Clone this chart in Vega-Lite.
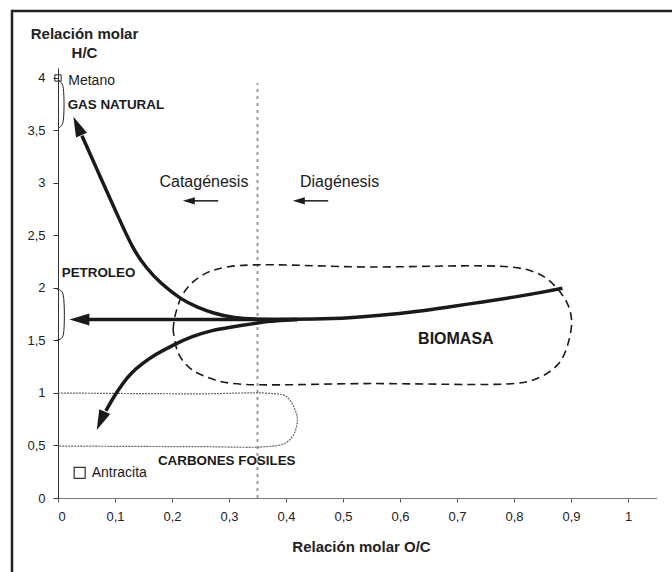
{
  "$schema": "https://vega.github.io/schema/vega-lite/v6.json",
  "autosize": {"type": "none"},
  "width": 598.5,
  "height": 430,
  "padding": {"left": 58, "top": 68, "right": 15.5, "bottom": 74},
  "background": "white",
  "config": {
    "view": {"stroke": null},
    "font": "Liberation Sans",
    "text": {"font": "Liberation Sans", "color": "#1a1a1a"}
  },
  "datasets": {
    "frame_h": [{"x": -0.0807, "x2": 1.2, "y": 4.638}],
    "frame_v": [{"x": -0.0807, "y": 4.65, "y2": -1.2}],
    "divide": [{"x": 0.35, "y": 0, "y2": 3.95}],
    "curves": [
      {"s": "main", "o": 1, "x": 0.885, "y": 1.997},
      {"s": "main", "o": 2, "x": 0.845, "y": 1.955},
      {"s": "main", "o": 3, "x": 0.805, "y": 1.917},
      {"s": "main", "o": 4, "x": 0.746, "y": 1.868},
      {"s": "main", "o": 5, "x": 0.68, "y": 1.815},
      {"s": "main", "o": 6, "x": 0.629, "y": 1.776},
      {"s": "main", "o": 7, "x": 0.57, "y": 1.74},
      {"s": "main", "o": 8, "x": 0.512, "y": 1.714},
      {"s": "main", "o": 9, "x": 0.45, "y": 1.703},
      {"s": "main", "o": 10, "x": 0.38, "y": 1.7},
      {"s": "main", "o": 11, "x": 0.3, "y": 1.7},
      {"s": "main", "o": 12, "x": 0.15, "y": 1.7},
      {"s": "main", "o": 13, "x": 0.045, "y": 1.7},
      {"s": "gas", "o": 1, "x": 0.42, "y": 1.7},
      {"s": "gas", "o": 2, "x": 0.36, "y": 1.7},
      {"s": "gas", "o": 3, "x": 0.307, "y": 1.714},
      {"s": "gas", "o": 4, "x": 0.272, "y": 1.76},
      {"s": "gas", "o": 5, "x": 0.245, "y": 1.815},
      {"s": "gas", "o": 6, "x": 0.217, "y": 1.886},
      {"s": "gas", "o": 7, "x": 0.179, "y": 2.048},
      {"s": "gas", "o": 8, "x": 0.155, "y": 2.19},
      {"s": "gas", "o": 9, "x": 0.132, "y": 2.362},
      {"s": "gas", "o": 10, "x": 0.103, "y": 2.71},
      {"s": "gas", "o": 11, "x": 0.074, "y": 3.06},
      {"s": "gas", "o": 12, "x": 0.042, "y": 3.45},
      {"s": "carb", "o": 1, "x": 0.42, "y": 1.7},
      {"s": "carb", "o": 2, "x": 0.37, "y": 1.685},
      {"s": "carb", "o": 3, "x": 0.343, "y": 1.66},
      {"s": "carb", "o": 4, "x": 0.3, "y": 1.625},
      {"s": "carb", "o": 5, "x": 0.272, "y": 1.6},
      {"s": "carb", "o": 6, "x": 0.235, "y": 1.54},
      {"s": "carb", "o": 7, "x": 0.202, "y": 1.457},
      {"s": "carb", "o": 8, "x": 0.172, "y": 1.37},
      {"s": "carb", "o": 9, "x": 0.149, "y": 1.286},
      {"s": "carb", "o": 10, "x": 0.128, "y": 1.19},
      {"s": "carb", "o": 11, "x": 0.112, "y": 1.08},
      {"s": "carb", "o": 12, "x": 0.098, "y": 0.965},
      {"s": "carb", "o": 13, "x": 0.084, "y": 0.83}
    ],
    "bigheads": [
      {"x": 0.02, "y": 1.7, "a": 0},
      {"x": 0.027, "y": 3.63, "a": 66},
      {"x": 0.068, "y": 0.648, "a": 293.5}
    ],
    "smallarrows": [
      {"s": "cat", "o": 1, "x": 0.235, "y": 2.83},
      {"s": "cat", "o": 2, "x": 0.281, "y": 2.83},
      {"s": "dia", "o": 1, "x": 0.428, "y": 2.83},
      {"s": "dia", "o": 2, "x": 0.474, "y": 2.83}
    ],
    "smallheads": [
      {"x": 0.219, "y": 2.83, "a": 0},
      {"x": 0.412, "y": 2.83, "a": 0}
    ],
    "bio": [
      {"o": 1, "x": 0.202, "y": 1.6},
      {"o": 2, "x": 0.205, "y": 1.727},
      {"o": 3, "x": 0.22, "y": 1.95},
      {"o": 4, "x": 0.249, "y": 2.108},
      {"o": 5, "x": 0.296, "y": 2.2},
      {"o": 6, "x": 0.55, "y": 2.2},
      {"o": 7, "x": 0.793, "y": 2.2},
      {"o": 8, "x": 0.834, "y": 2.155},
      {"o": 9, "x": 0.862, "y": 2.07},
      {"o": 10, "x": 0.892, "y": 1.87},
      {"o": 11, "x": 0.901, "y": 1.695},
      {"o": 12, "x": 0.895, "y": 1.473},
      {"o": 13, "x": 0.881, "y": 1.298},
      {"o": 14, "x": 0.86, "y": 1.194},
      {"o": 15, "x": 0.834, "y": 1.124},
      {"o": 16, "x": 0.805, "y": 1.092},
      {"o": 17, "x": 0.55, "y": 1.09},
      {"o": 18, "x": 0.308, "y": 1.09},
      {"o": 19, "x": 0.267, "y": 1.14},
      {"o": 20, "x": 0.232, "y": 1.235},
      {"o": 21, "x": 0.211, "y": 1.378},
      {"o": 22, "x": 0.202, "y": 1.6}
    ],
    "carbon": [
      {"o": 1, "x": 0, "y": 1.0},
      {"o": 2, "x": 0.249, "y": 0.992},
      {"o": 3, "x": 0.37, "y": 0.997},
      {"o": 4, "x": 0.401, "y": 0.965},
      {"o": 5, "x": 0.416, "y": 0.838},
      {"o": 6, "x": 0.42, "y": 0.743},
      {"o": 7, "x": 0.413, "y": 0.6},
      {"o": 8, "x": 0.398, "y": 0.521},
      {"o": 9, "x": 0.366, "y": 0.489},
      {"o": 10, "x": 0.249, "y": 0.489},
      {"o": 11, "x": 0, "y": 0.495}
    ],
    "brackets": [
      {"s": "gas", "o": 1, "x": 0.0, "y": 3.98},
      {"s": "gas", "o": 2, "x": 0.006, "y": 3.955},
      {"s": "gas", "o": 3, "x": 0.0093, "y": 3.9},
      {"s": "gas", "o": 4, "x": 0.0093, "y": 3.6},
      {"s": "gas", "o": 5, "x": 0.006, "y": 3.545},
      {"s": "gas", "o": 6, "x": 0.0, "y": 3.52},
      {"s": "pet", "o": 1, "x": -0.005, "y": 1.997},
      {"s": "pet", "o": 2, "x": 0.006, "y": 1.97},
      {"s": "pet", "o": 3, "x": 0.0093, "y": 1.93},
      {"s": "pet", "o": 4, "x": 0.0093, "y": 1.555},
      {"s": "pet", "o": 5, "x": 0.006, "y": 1.52},
      {"s": "pet", "o": 6, "x": -0.005, "y": 1.498}
    ],
    "markers": [
      {"t": "Metano", "x": 0.0, "y": 4.0},
      {"t": "Antracita", "x": 0.038, "y": 0.24}
    ],
    "lab_reg": [
      {"t": "Metano", "x": 0.018, "y": 3.974},
      {"t": "Antracita", "x": 0.059, "y": 0.235}
    ],
    "lab_big": [
      {"t": "Catagénesis", "x": 0.256, "y": 3.012},
      {"t": "Diagénesis", "x": 0.494, "y": 3.012}
    ],
    "lab_bold": [
      {"t": "GAS NATURAL", "x": 0.017, "y": 3.743},
      {"t": "PETROLEO", "x": 0.0065, "y": 2.143}
    ],
    "lab_carb": [
      {"t": "CARBONES FOSILES", "x": 0.296, "y": 0.355}
    ],
    "lab_bio": [
      {"t": "BIOMASA", "x": 0.698, "y": 1.511}
    ]
  },
  "encoding": {
    "x": {
      "field": "x", "type": "quantitative",
      "scale": {"domain": [0, 1.05], "nice": false, "zero": false},
      "axis": {
        "values": [0, 0.1, 0.2, 0.3, 0.4, 0.5, 0.6, 0.7, 0.8, 0.9, 1],
        "labelExpr": "replace(format(datum.value, '~g'), '.', ',')",
        "grid": false, "tickSize": 4, "domainColor": "#777", "tickColor": "#555",
        "labelFont": "Liberation Sans", "labelFontSize": 13, "labelColor": "#222", "labelPadding": 8,
        "title": "Relación molar O/C", "titleFont": "Liberation Sans", "titleFontSize": 15,
        "titleFontWeight": "bold", "titleColor": "#222", "titleX": 303, "titleY": 53,
        "titleAlign": "center", "titleBaseline": "alphabetic"
      }
    },
    "y": {
      "field": "y", "type": "quantitative",
      "scale": {"domain": [0, 4.095], "nice": false, "zero": false},
      "axis": {
        "values": [0, 0.5, 1, 1.5, 2, 2.5, 3, 3.5, 4],
        "labelExpr": "replace(format(datum.value, '~g'), '.', ',')",
        "grid": false, "tickSize": 5, "domainColor": "#333", "tickColor": "#333",
        "labelFont": "Liberation Sans", "labelFontSize": 13, "labelColor": "#222", "labelPadding": 8,
        "title": ["Relación molar", "H/C"], "titleFont": "Liberation Sans", "titleFontSize": 15,
        "titleFontWeight": "bold", "titleColor": "#222", "titleAngle": 0, "titleX": 26, "titleY": -30,
        "titleAlign": "center", "titleBaseline": "alphabetic", "titleLineHeight": 19
      }
    }
  },
  "layer": [
    {
      "data": {"name": "frame_h"},
      "mark": {"type": "rule", "color": "#222", "strokeWidth": 2.5},
      "encoding": {"x2": {"field": "x2"}}
    },
    {
      "data": {"name": "frame_v"},
      "mark": {"type": "rule", "color": "#222", "strokeWidth": 2.5},
      "encoding": {"y2": {"field": "y2"}}
    },
    {
      "data": {"name": "divide"},
      "mark": {"type": "rule", "color": "#999", "strokeWidth": 2, "strokeDash": [3, 4]},
      "encoding": {"y2": {"field": "y2"}}
    },
    {
      "data": {"name": "bio"},
      "mark": {"type": "line", "interpolate": "catmull-rom", "color": "#1a1a1a", "strokeWidth": 1.6, "strokeDash": [8, 5]},
      "encoding": {"order": {"field": "o"}}
    },
    {
      "data": {"name": "carbon"},
      "mark": {"type": "line", "interpolate": "catmull-rom", "color": "#666", "strokeWidth": 1.2, "strokeDash": [2, 1]},
      "encoding": {"order": {"field": "o"}}
    },
    {
      "data": {"name": "brackets"},
      "mark": {"type": "line", "interpolate": "catmull-rom", "color": "#222", "strokeWidth": 1},
      "encoding": {"detail": {"field": "s"}, "order": {"field": "o"}}
    },
    {
      "data": {"name": "curves"},
      "mark": {"type": "line", "interpolate": "basis", "color": "#1a1a1a", "strokeWidth": 3.5},
      "encoding": {"detail": {"field": "s"}, "order": {"field": "o"}}
    },
    {
      "data": {"name": "bigheads"},
      "mark": {"type": "point", "shape": "M0,0L2,-0.6L2,0.6Z", "filled": true, "color": "#1a1a1a", "opacity": 1, "size": 400},
      "encoding": {"angle": {"field": "a", "type": "quantitative", "scale": null}}
    },
    {
      "data": {"name": "smallarrows"},
      "mark": {"type": "line", "color": "#1a1a1a", "strokeWidth": 1.5},
      "encoding": {"detail": {"field": "s"}, "order": {"field": "o"}}
    },
    {
      "data": {"name": "smallheads"},
      "mark": {"type": "point", "shape": "M0,0L2,-0.6L2,0.6Z", "filled": true, "color": "#1a1a1a", "opacity": 1, "size": 144},
      "encoding": {"angle": {"field": "a", "type": "quantitative", "scale": null}}
    },
    {
      "data": {"name": "markers"},
      "transform": [{"filter": "datum.t == 'Metano'"}],
      "mark": {"type": "point", "shape": "square", "filled": false, "color": "#222", "opacity": 1, "strokeWidth": 1, "size": 40}
    },
    {
      "data": {"name": "markers"},
      "transform": [{"filter": "datum.t == 'Antracita'"}],
      "mark": {"type": "point", "shape": "square", "filled": false, "color": "#333", "opacity": 1, "strokeWidth": 1.2, "size": 121}
    },
    {
      "data": {"name": "lab_reg"},
      "mark": {"type": "text", "align": "left", "baseline": "middle", "fontSize": 14},
      "encoding": {"text": {"field": "t"}}
    },
    {
      "data": {"name": "lab_big"},
      "mark": {"type": "text", "align": "center", "baseline": "middle", "fontSize": 16},
      "encoding": {"text": {"field": "t"}}
    },
    {
      "data": {"name": "lab_bold"},
      "mark": {"type": "text", "align": "left", "baseline": "middle", "fontSize": 13.4, "fontWeight": "bold"},
      "encoding": {"text": {"field": "t"}}
    },
    {
      "data": {"name": "lab_carb"},
      "mark": {"type": "text", "align": "center", "baseline": "middle", "fontSize": 13.4, "fontWeight": "bold"},
      "encoding": {"text": {"field": "t"}}
    },
    {
      "data": {"name": "lab_bio"},
      "mark": {"type": "text", "align": "center", "baseline": "middle", "fontSize": 16, "fontWeight": "bold"},
      "encoding": {"text": {"field": "t"}}
    }
  ]
}
